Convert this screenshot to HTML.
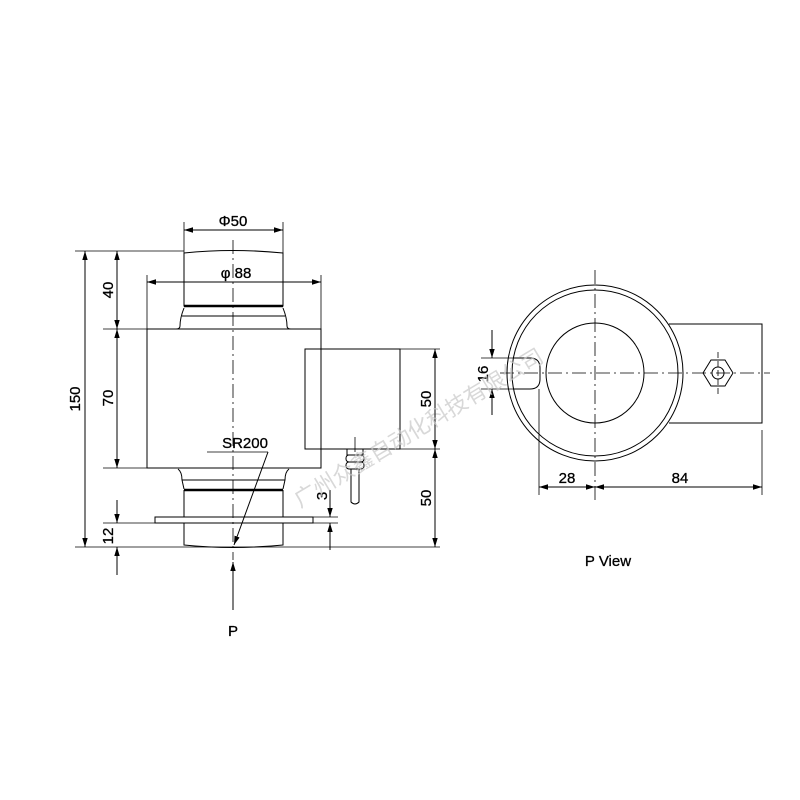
<!DOCTYPE html>
<html><head><style>body{margin:0;background:#fff}svg{display:block}</style></head><body>
<svg width="800" height="800" viewBox="0 0 800 800" xmlns="http://www.w3.org/2000/svg" font-family="Liberation Sans, sans-serif">
<defs>
<marker id="a" viewBox="0 0 10 10" refX="10" refY="5" markerWidth="9" markerHeight="9" orient="auto-start-reverse" markerUnits="userSpaceOnUse"><path d="M0,2 L10,5 L0,8 z" fill="#000"/></marker>
</defs>
<g stroke="#000" fill="none" stroke-width="1">
<path d="M184,253 Q233,248 283,253 L283,306 L184,306 Z"/>
<line x1="184" y1="306" x2="283" y2="306" stroke-width="2.5"/>
<path d="M184,308 Q180,318 180,326 Q180,329 176,329 M283,308 Q287,318 287,326 Q287,329 291,329"/>
<line x1="182" y1="316" x2="285" y2="316"/>
<rect x="147" y="329" width="174" height="139"/>
<rect x="305" y="349" width="95" height="100"/>
<path d="M178,469 Q182,472 182,480 L184,489 M289,469 Q285,472 285,480 L283,489"/>
<line x1="182" y1="480" x2="285" y2="480"/>
<line x1="184" y1="490" x2="283" y2="490" stroke-width="2.5"/>
<path d="M184,490 L184,517 M283,490 L283,517"/>
<rect x="155" y="517" width="158" height="6"/>
<path d="M184,523 L184,545 Q233,550 283,545 L283,523"/>
<rect x="347" y="449" width="16" height="6"/>
<rect x="346" y="455" width="18" height="7" rx="3"/>
<rect x="346" y="462" width="18" height="7" rx="3"/>
<path d="M351,469 L351,502 Q355,506 359,502 L359,469"/>
<line x1="233" y1="240" x2="233" y2="560" stroke-dasharray="14,4,2,4" stroke-width="0.8"/>
<line x1="355" y1="437" x2="355" y2="452" stroke-width="0.8"/>
<line x1="75" y1="251" x2="184" y2="251" stroke-width="0.8"/>
<line x1="103" y1="329" x2="147" y2="329" stroke-width="0.8"/>
<line x1="103" y1="468" x2="147" y2="468" stroke-width="0.8"/>
<line x1="103" y1="523" x2="155" y2="523" stroke-width="0.8"/>
<line x1="75" y1="547" x2="440" y2="547" stroke-width="0.8"/>
<line x1="184" y1="222" x2="184" y2="253" stroke-width="0.8"/>
<line x1="283" y1="222" x2="283" y2="253" stroke-width="0.8"/>
<line x1="147" y1="275" x2="147" y2="329" stroke-width="0.8"/>
<line x1="321" y1="275" x2="321" y2="329" stroke-width="0.8"/>
<line x1="400" y1="349" x2="440" y2="349" stroke-width="0.8"/>
<line x1="345" y1="449" x2="440" y2="449" stroke-width="0.8"/>
<line x1="313" y1="517" x2="338" y2="517" stroke-width="0.8"/>
<line x1="313" y1="523" x2="338" y2="523" stroke-width="0.8"/>
<line x1="85" y1="251" x2="85" y2="547" marker-start="url(#a)" marker-end="url(#a)"/>
<line x1="117" y1="251" x2="117" y2="329" marker-start="url(#a)" marker-end="url(#a)"/>
<line x1="117" y1="329" x2="117" y2="468" marker-start="url(#a)" marker-end="url(#a)"/>
<line x1="117" y1="500" x2="117" y2="523" marker-end="url(#a)"/>
<line x1="117" y1="575" x2="117" y2="547" marker-end="url(#a)"/>
<line x1="184" y1="230" x2="283" y2="230" marker-start="url(#a)" marker-end="url(#a)"/>
<line x1="147" y1="282" x2="321" y2="282" marker-start="url(#a)" marker-end="url(#a)"/>
<line x1="435" y1="349" x2="435" y2="449" marker-start="url(#a)" marker-end="url(#a)"/>
<line x1="435" y1="449" x2="435" y2="547" marker-start="url(#a)" marker-end="url(#a)"/>
<line x1="330" y1="490" x2="330" y2="517" marker-end="url(#a)"/>
<line x1="330" y1="550" x2="330" y2="523" marker-end="url(#a)"/>
<line x1="207" y1="452" x2="268" y2="452" stroke-width="0.8"/>
<line x1="268" y1="452" x2="234" y2="545" marker-end="url(#a)"/>
<line x1="233" y1="610" x2="233" y2="562" marker-end="url(#a)"/>
<circle cx="595" cy="373" r="88"/>
<circle cx="595" cy="373" r="83"/>
<ellipse cx="595" cy="373" rx="49" ry="50"/>
<path d="M669,324 L762,324 L762,423 L669,423"/>
<polygon points="711,360 725,360 733,373 725,386 711,386 703,373"/>
<circle cx="718" cy="373" r="6"/>
<path d="M513,358 L530,358 Q540,358 540,368 L540,379 Q540,389 530,389 L513,389"/>
<line x1="595" y1="270" x2="595" y2="500" stroke-dasharray="14,4,2,4" stroke-width="0.8"/>
<line x1="500" y1="373" x2="770" y2="373" stroke-dasharray="14,4,2,4" stroke-width="0.8"/>
<line x1="718" y1="352" x2="718" y2="395" stroke-dasharray="6,3" stroke-width="0.8"/>
<line x1="481" y1="358" x2="513" y2="358" stroke-width="0.8"/>
<line x1="481" y1="389" x2="513" y2="389" stroke-width="0.8"/>
<line x1="492" y1="330" x2="492" y2="358" marker-end="url(#a)"/>
<line x1="492" y1="415" x2="492" y2="389" marker-end="url(#a)"/>
<line x1="539" y1="389" x2="539" y2="495" stroke-width="0.8"/>
<line x1="762" y1="430" x2="762" y2="495" stroke-width="0.8"/>
<line x1="539" y1="487" x2="595" y2="487" marker-start="url(#a)" marker-end="url(#a)"/>
<line x1="595" y1="487" x2="762" y2="487" marker-start="url(#a)" marker-end="url(#a)"/>
</g>
<g font-size="15" fill="#000" text-anchor="middle" stroke="#000" stroke-width="0.3">
<text x="233" y="226">Φ50</text>
<text x="236" y="278">φ 88</text>
<text x="245" y="448">SR200</text>
<text x="233" y="636">P</text>
<text x="608" y="566">P View</text>
<text x="567" y="483">28</text>
<text x="680" y="483">84</text>
<text transform="translate(80,399) rotate(-90)">150</text>
<text transform="translate(113,290) rotate(-90)">40</text>
<text transform="translate(113,398) rotate(-90)">70</text>
<text transform="translate(113,536) rotate(-90)">12</text>
<text transform="translate(431,399) rotate(-90)">50</text>
<text transform="translate(431,498) rotate(-90)">50</text>
<text transform="translate(327,496) rotate(-90)">3</text>
<text transform="translate(488,374) rotate(-90)">16</text>
</g>
<text transform="translate(300,508) rotate(-31)" font-size="22" fill="#c8c8c8" opacity="0.7" font-family="Liberation Sans, Noto Sans CJK SC, sans-serif">广州众鑫自动化科技有限公司</text>
</svg>
</body></html>
